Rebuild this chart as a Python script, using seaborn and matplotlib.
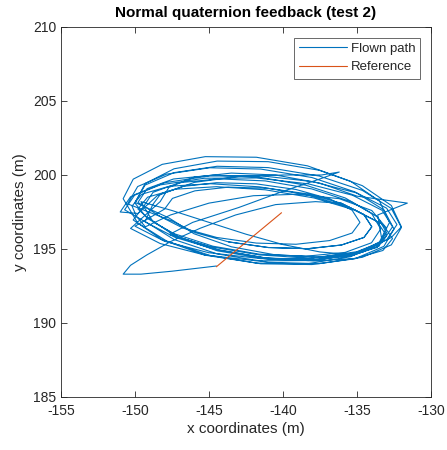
import matplotlib
matplotlib.use("Agg")
import matplotlib.pyplot as plt
import seaborn as sns
import pandas as pd

sns.set_style("white")
plt.rcParams['font.family'] = ['Liberation Sans', 'DejaVu Sans']
plt.rcParams['axes.unicode_minus'] = False

title = "Normal quaternion feedback (test 2)"
xlabel = "x coordinates (m)"
ylabel = "y coordinates (m)"
series_names = ["Flown path", "Reference"]
xticks = [-155, -150, -145, -140, -135, -130]
yticks = [185, 190, 195, 200, 205, 210]

# Flown path (x, y in metres)
tail_x = [-144.5, -147.5, -149.6, -150.8, -150.3, -149.2, -147.6, -145.6, -143.2, -140.5, -137.8]
tail_y = [193.85, 193.5, 193.3, 193.3, 193.9, 194.6, 195.5, 196.4, 197.3, 198.0, 198.2]

b_start_x = [-136.05, -134.53, -134.0, -134.53, -136.05, -138.32, -141.0, -143.68, -145.95, -147.47]
b_start_y = [198.09, 197.32, 196.5, 195.78, 195.27, 195.02, 195.1, 195.48, 196.11, 196.88]

loop_a_x = [-150.5, -149.82, -147.86, -144.95, -141.5, -138.05, -135.14, -133.18, -132.5, -133.18, -135.14, -138.05, -141.5, -144.95, -147.86, -149.82]
loop_a_y = [198.05, 199.22, 200.06, 200.49, 200.4, 199.83, 198.86, 197.64, 196.35, 195.18, 194.34, 193.95, 194.0, 194.57, 195.54, 196.76]

loop_c_x = [-150.8, -150.12, -148.16, -145.25, -141.8, -138.35, -135.44, -133.48, -132.8, -133.48, -135.44, -138.35, -141.8, -145.25, -148.16, -150.12]
loop_c_y = [198.4, 199.72, 200.72, 201.24, 201.2, 200.62, 199.58, 198.24, 196.8, 195.48, 194.48, 194.0, 194.05, 194.58, 195.62, 196.96]

loop_d_x = [-149.4, -148.78, -147.0, -144.34, -141.2, -138.06, -135.4, -133.62, -133.0, -133.62, -135.4, -138.06, -141.2, -144.34, -147.0, -148.78]
loop_d_y = [197.9, 198.83, 199.48, 199.74, 199.6, 199.06, 198.2, 197.17, 196.1, 195.17, 194.52, 194.26, 194.4, 194.94, 195.8, 196.83]

s_loop_x = [-149.6, -147.5, -145.0, -142.5, -140.0, -137.5, -135.2, -133.5, -133.0, -134.0, -136.2, -139.0, -142.0, -145.0, -147.6, -149.3, -149.9]
s_loop_y = [198.2, 197.6, 196.8, 196.0, 195.3, 194.8, 194.6, 195.2, 196.4, 197.6, 198.4, 198.7, 198.6, 198.1, 197.3, 196.5, 197.2]

loop_g_x = [-150.2, -149.55, -147.68, -144.89, -141.6, -138.31, -135.52, -133.65, -133.0, -133.65, -135.52, -138.31, -141.6, -144.89, -147.68]
loop_g_y = [197.9, 198.7, 199.24, 199.41, 199.2, 198.65, 197.82, 196.86, 195.9, 195.1, 194.56, 194.39, 194.6, 195.15, 195.98]

diag_x = [-146.1, -143.0, -140.0, -137.6, -136.2, -137.4, -140.0, -143.0, -146.0, -148.5, -149.8]
diag_y = [196.8, 197.8, 198.9, 199.7, 200.2, 200.0, 200.0, 199.9, 199.5, 198.6, 197.4]

loop_e_x = [-151.0, -150.3, -148.3, -145.32, -141.8, -138.28, -135.3, -133.3, -132.6, -133.3, -135.3, -138.28, -141.8, -145.32, -148.3, -150.3]
loop_e_y = [197.5, 198.53, 199.33, 199.78, 199.8, 199.4, 198.63, 197.61, 196.5, 195.47, 194.67, 194.22, 194.2, 194.6, 195.37, 196.39]

loop_f_x = [-148.3, -147.71, -146.01, -143.49, -140.5, -137.51, -134.99, -131.6, -133.6, -133.29, -134.99, -137.51, -140.5, -143.49, -146.01, -147.71]
loop_f_y = [198.2, 199.16, 199.85, 200.13, 200.0, 199.45, 198.57, 198.1, 197.3, 195.44, 194.75, 194.47, 194.6, 195.15, 196.03, 197.1]

loop_a2_x = [-150.0, -149.32, -147.36, -144.45, -141.0, -137.55, -134.64, -132.68, -132.0, -132.68, -134.64, -137.55, -141.0, -144.45, -147.36, -149.32]
loop_a2_y = [198.15, 199.32, 200.16, 200.59, 200.5, 199.93, 198.96, 197.74, 196.45, 195.28, 194.44, 194.01, 194.1, 194.67, 195.64, 196.86]

loop_b2_x = [-148.8, -148.27, -146.75, -144.48, -141.8, -139.12, -136.85, -135.33, -134.8, -135.33, -136.85, -139.12, -141.8, -144.48, -146.75, -148.27]
loop_b2_y = [198.0, 198.72, 199.23, 199.48, 199.4, 199.02, 198.39, 197.62, 196.8, 196.08, 195.57, 195.32, 195.4, 195.78, 196.41, 197.18]

loop_d2_x = [-149.8, -149.18, -147.4, -144.74, -141.6, -138.46, -135.8, -134.02, -133.4, -134.02, -135.8, -138.46, -141.6, -144.74, -147.4, -149.18]
loop_d2_y = [198.15, 199.08, 199.73, 199.99, 199.85, 199.31, 198.45, 197.42, 196.35, 195.42, 194.77, 194.51, 194.65, 195.19, 196.05, 197.08]

loop_c2_x = [-150.0, -149.32, -147.36, -144.45, -141.0, -137.55, -134.64, -132.68, -132.0, -132.68, -134.64, -137.55, -141.0, -144.45, -147.36, -149.32]
loop_c2_y = [198.1, 199.42, 200.42, 200.94, 200.9, 200.32, 199.28, 197.94, 196.5, 195.78, 194.78, 194.26, 194.3, 194.88, 195.92, 197.26]

loop_g2_x = [-149.8, -149.15, -147.28, -144.49, -141.2, -137.91, -135.12, -133.25, -132.6, -133.25, -135.12, -137.91, -141.2, -144.49, -147.28, -149.15]
loop_g2_y = [197.7, 198.5, 199.04, 199.21, 199.0, 198.45, 197.62, 196.66, 195.7, 194.9, 194.36, 194.19, 194.4, 194.95, 195.78, 196.74]

loop_e2_x = [-150.7, -150.0, -148.0, -145.02, -141.5, -137.98, -135.0, -133.0, -132.3, -133.0, -135.0, -137.98, -141.5, -145.02, -148.0, -150.0]
loop_e2_y = [197.65, 198.68, 199.48, 199.93, 199.95, 199.55, 198.78, 197.76, 196.65, 195.62, 194.82, 194.37, 194.35, 194.75, 195.52, 196.54]

loop_b_x = [-148.0, -147.47, -145.95, -143.68, -141.0, -138.32, -136.05, -134.53, -134.0, -134.53, -136.05, -138.32, -141.0, -143.68]
loop_b_y = [197.7, 198.42, 198.93, 199.18, 199.1, 198.72, 198.09, 197.32, 196.5, 195.78, 195.27, 195.02, 195.1, 195.48]

segments_x = [tail_x, b_start_x, loop_a_x, loop_c_x, loop_d_x, s_loop_x, loop_g_x, diag_x,
              loop_e_x, loop_f_x, loop_a2_x, loop_b2_x, loop_d2_x, loop_c2_x, loop_g2_x,
              loop_e2_x, loop_b_x]
segments_y = [tail_y, b_start_y, loop_a_y, loop_c_y, loop_d_y, s_loop_y, loop_g_y, diag_y,
              loop_e_y, loop_f_y, loop_a2_y, loop_b2_y, loop_d2_y, loop_c2_y, loop_g2_y,
              loop_e2_y, loop_b_y]
flown_x = [v for seg in segments_x for v in seg]
flown_y = [v for seg in segments_y for v in seg]

ref_x = [-144.5, -140.1]
ref_y = [193.8, 197.45]

blue = "#0072BD"
orange = "#D95319"

fig = plt.figure(figsize=(4.47, 4.50), dpi=100)
ax = fig.add_axes([61/447, 53/450, 370/447, 370/450])

df_f = pd.DataFrame({"x": flown_x, "y": flown_y})
df_r = pd.DataFrame({"x": ref_x, "y": ref_y})
sns.lineplot(data=df_f, x="x", y="y", sort=False, estimator=None, color=blue,
             linewidth=0.8, ax=ax, label=series_names[0])
sns.lineplot(data=df_r, x="x", y="y", sort=False, estimator=None, color=orange,
             linewidth=0.8, ax=ax, label=series_names[1])

ax.set_xlim(-155, -130)
ax.set_ylim(185, 210)
ax.set_xticks(xticks)
ax.set_yticks(yticks)
ax.tick_params(direction="in", length=4, width=0.6, labelsize=10,
               colors="#262626", top=True, right=True, bottom=True, left=True,
               labeltop=False, labelright=False)
ax.tick_params(axis="x", pad=5)
for s in ax.spines.values():
    s.set_visible(True)
    s.set_color("#262626")
    s.set_linewidth(0.6)
ax.set_xlabel(xlabel, fontsize=11, color="#262626", labelpad=3)
ax.set_ylabel(ylabel, fontsize=11, color="#262626")
ax.set_title(title, fontsize=11, fontweight="bold", color="black", pad=7)
leg = ax.legend(loc="upper right", fontsize=9.5, frameon=True, fancybox=False,
                borderpad=0.4, handlelength=3.6, handletextpad=0.3,
                labelspacing=0.45, borderaxespad=0.8)
leg.get_frame().set_edgecolor("#262626")
leg.get_frame().set_linewidth(0.6)

fig.savefig("out.png", dpi=100)
